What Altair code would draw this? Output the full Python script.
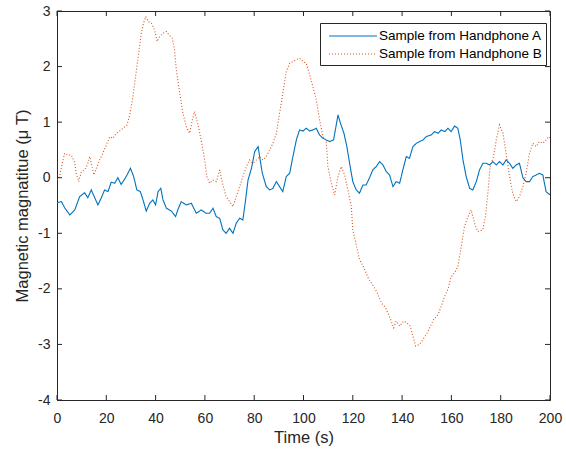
import altair as alt
import pandas as pd

# ---- data ----
t_a = [0, 1.8, 3.1, 5.2, 7.2, 9.2, 11.2, 12.5, 13.9, 15.3, 16.6, 18, 19.3, 20.7, 22, 23.4, 24.7, 26, 27.4, 28.4,
       29.8, 31.1, 32.4, 33.8, 34.9, 36.2, 37.6, 38.9, 40, 41, 42.1, 43, 44.4, 46.4, 48.1, 49, 50.4, 52.4, 54.5,
       56.5, 58.5, 60.5, 61.9, 63.3, 64.6, 66, 67.3, 68.6, 70, 71.4, 72.7, 74.1, 75.4, 76.5, 77.5, 78.9, 80.2,
       81.6, 82.2, 83.3, 84.9, 86.3, 87.6, 89, 90.3, 91.6, 93, 94.4, 95.7, 97.1, 98.4, 99.8, 101.1, 102.5, 103.8,
       105.2, 106.5, 107.9, 109.2, 110.6, 112.2, 114, 115, 116.4, 117.6, 118.7, 120, 121.4, 122.7, 124.1, 125.4,
       126.8, 128.1, 129.5, 130.9, 132.2, 133.6, 134.9, 136.3, 137.6, 139, 140.3, 141.7, 143, 144.4, 145.8,
       147.1, 148.5, 149.8, 151.8, 153.2, 154.6, 155.9, 157.3, 158.6, 159.9, 161.3, 162.6, 163.6, 164.7, 166,
       167.4, 168.7, 170.1, 171.4, 172.8, 174.1, 175.5, 176.8, 178.2, 179.5, 180.9, 182.2, 183.6, 184.9, 186.3,
       187.6, 189, 190.3, 191.7, 193, 194.4, 195.7, 197.1, 198.4, 200]
v_a = [-0.45, -0.43, -0.54, -0.67, -0.58, -0.34, -0.27, -0.36, -0.22, -0.36, -0.49, -0.36, -0.22, -0.25, -0.08,
       -0.1, 0.0, -0.12, -0.03, 0.05, 0.17, 0.02, -0.22, -0.25, -0.4, -0.6, -0.46, -0.4, -0.49, -0.25, -0.19,
       -0.4, -0.55, -0.6, -0.7, -0.58, -0.43, -0.49, -0.46, -0.64, -0.58, -0.64, -0.64, -0.55, -0.7, -0.73,
       -0.94, -1.0, -0.91, -1.0, -0.82, -0.73, -0.76, -0.4, -0.04, 0.17, 0.47, 0.56, 0.38, 0.08, -0.16, -0.22,
       -0.19, -0.07, -0.16, -0.25, 0.02, 0.08, 0.38, 0.68, 0.86, 0.84, 0.89, 0.84, 0.86, 0.89, 0.77, 0.71, 0.68,
       0.65, 0.68, 1.13, 0.98, 0.8, 0.56, 0.26, -0.07, -0.22, -0.28, -0.13, -0.13, 0.0, 0.14, 0.2, 0.29, 0.23,
       0.11, 0.05, -0.16, -0.07, -0.1, 0.14, 0.38, 0.35, 0.56, 0.62, 0.65, 0.68, 0.74, 0.77, 0.83, 0.8, 0.86,
       0.83, 0.89, 0.83, 0.93, 0.89, 0.68, 0.32, 0.02, -0.19, -0.22, -0.07, 0.14, 0.26, 0.26, 0.23, 0.29, 0.23,
       0.29, 0.23, 0.32, 0.26, 0.17, 0.23, 0.26, 0.0, -0.07, -0.07, 0.02, 0.05, 0.08, 0.05, -0.25, -0.31]

t_b = [0, 1, 2.2, 3.1, 4.4, 5.8, 7.2, 7.8, 8.8, 9.9, 11.2, 12.3, 13.3, 14.2, 15, 16, 17.3, 18.6, 20, 21.4, 22.7,
       24.1, 25.4, 26.8, 28.4, 29.5, 30.6, 31.5, 32.4, 33.3, 34.2, 35.1, 36, 37, 38.3, 39.6, 40.6, 41.6, 43, 44.4,
       45.4, 46.8, 47.7, 48.4, 49.8, 51.1, 52.4, 53.8, 54.9, 55.8, 57.1, 58.5, 59.9, 60.8, 61.9, 63.2, 64.6, 66,
       67.3, 68.6, 70, 71.4, 72.7, 74.1, 75.4, 76.8, 78.1, 79.5, 80.9, 82.2, 83.6, 84.9, 86.3, 87.6, 89, 90.3,
       91.6, 93, 94.4, 95.7, 97.3, 98.4, 99.8, 101.1, 102.5, 103.8, 105.2, 106.5, 107.9, 109.2, 109.9, 111.3,
       112.6, 114, 115.3, 116.7, 118, 119.4, 120, 121.2, 122.7, 124.8, 126.5, 128.4, 129.9, 131.6, 133.3, 134.2,
       135.6, 136.6, 137.6, 139, 140.6, 141.9, 143.3, 144.4, 145.5, 147.1, 148.5, 149.8, 151.2, 152.8, 154.6,
       155.9, 157.3, 158.6, 159.9, 161.3, 162.6, 164, 165.3, 166.7, 168, 169.4, 170.7, 172.7, 173.8, 174.8, 175.7,
       177.1, 178.2, 179.5, 180.9, 182.2, 183.6, 184.9, 186.3, 187.6, 189, 190.3, 191.7, 193, 194.4, 195.7, 197.1,
       198.4, 199.5, 200]
v_b = [-0.04, 0.02, 0.27, 0.44, 0.41, 0.41, 0.27, 0.08, -0.07, 0.11, 0.14, 0.23, 0.38, 0.2, 0.05, 0.17, 0.32,
       0.44, 0.59, 0.74, 0.71, 0.8, 0.84, 0.89, 0.95, 1.13, 1.4, 1.7, 2.0, 2.3, 2.6, 2.78, 2.9, 2.81, 2.78, 2.66,
       2.45, 2.54, 2.6, 2.63, 2.57, 2.51, 2.3, 1.94, 1.52, 1.16, 0.92, 0.8, 1.04, 1.19, 0.97, 0.68, 0.32, 0.02,
       -0.1, -0.04, -0.07, 0.14, -0.13, -0.34, -0.43, -0.52, -0.34, -0.16, 0.02, 0.2, 0.32, 0.26, 0.32, 0.38,
       0.32, 0.38, 0.5, 0.62, 0.8, 1.16, 1.52, 1.91, 2.06, 2.09, 2.13, 2.15, 2.09, 2.06, 1.85, 1.64, 1.4, 1.04,
       0.74, 0.68, 0.2, -0.1, -0.31, 0.02, 0.2, 0.05, -0.22, -0.52, -0.94, -1.17, -1.47, -1.65, -1.83, -1.95,
       -2.07, -2.25, -2.34, -2.43, -2.58, -2.7, -2.58, -2.67, -2.58, -2.61, -2.67, -2.85, -3.03, -3.0, -2.91,
       -2.82, -2.7, -2.55, -2.46, -2.31, -2.13, -2.01, -1.78, -1.71, -1.6, -1.24, -0.88, -0.7, -0.58, -0.82,
       -0.97, -0.94, -0.7, -0.28, 0.2, 0.38, 0.68, 0.95, 0.8, 0.44, 0.02, -0.28, -0.43, -0.34, -0.16, 0.08, 0.44,
       0.62, 0.56, 0.65, 0.62, 0.68, 0.74, 0.72]

series_names = ["Sample from Handphone A", "Sample from Handphone B"]
x_ticks = [0, 20, 40, 60, 80, 100, 120, 140, 160, 180, 200]
y_ticks = [-4, -3, -2, -1, 0, 1, 2, 3]

df = pd.concat([
    pd.DataFrame({"t": t_a, "v": v_a, "s": series_names[0], "o": range(len(t_a))}),
    pd.DataFrame({"t": t_b, "v": v_b, "s": series_names[1], "o": range(len(t_b))}),
])
xt = pd.DataFrame({"t": x_ticks})
yt = pd.DataFrame({"v": y_ticks})

W, H = 493, 389
FONT = "Liberation Sans"
AX = "#262626"

xscale = alt.Scale(domain=[0, 200], nice=False, zero=False)
yscale = alt.Scale(domain=[-4, 3], nice=False, zero=False)


def make_legend():
    return alt.Legend(title=None, orient="none", legendX=263, legendY=12,
                      symbolType="M-3,0H3", symbolSize=256, symbolStrokeWidth=1.1,
                      symbolOffset=20, labelOffset=17, labelLimit=400,
                      labelFontSize=13.5, labelFont=FONT, labelColor="#000000",
                      strokeColor=AX, fillColor="white", padding=4, rowPadding=2,
                      cornerRadius=0)


lines = alt.Chart(df).mark_line(clip=True, strokeWidth=1.1).encode(
    x=alt.X("t:Q", scale=xscale, axis=alt.Axis(values=x_ticks, labelExpr="'' + datum.value",
                                                labelFlush=False, labelOverlap=False,
                                                title="Time (s)", grid=False,
                                                tickSize=0, labelPadding=11, titlePadding=4, domainColor=AX,
                                                labelColor=AX, titleColor=AX, labelFontSize=14,
                                                titleFontSize=16.5, labelFont=FONT, titleFont=FONT,
                                                titleFontWeight="normal")),
    y=alt.Y("v:Q", scale=yscale, axis=alt.Axis(values=y_ticks, labelExpr="'' + datum.value",
                                                labelFlush=False, labelOverlap=False,
                                                title="Magnetic magnatitue (\u03bc T)",
                                                grid=False, tickSize=0, labelPadding=7,
                                                titleX=-35, titleY=H / 2, titleBaseline="middle",
                                                titleAlign="center", titleAngle=270,
                                                domainColor=AX, labelColor=AX, titleColor=AX,
                                                labelFontSize=14, titleFontSize=16.5, labelFont=FONT,
                                                titleFont=FONT, titleFontWeight="normal")),
    color=alt.Color("s:N", scale=alt.Scale(domain=series_names, range=["#0072BD", "#D95319"]),
                    legend=make_legend()),
    strokeDash=alt.StrokeDash("s:N", scale=alt.Scale(domain=series_names, range=[[1, 0], [1, 2]]),
                              legend=make_legend()),
    order="o:Q",
)

tick_len = 5
bx = alt.Chart(xt).mark_rule(color=AX, strokeWidth=1).encode(
    x=alt.X("t:Q", scale=xscale), y=alt.value(H), y2=alt.value(H - tick_len))
tx = alt.Chart(xt).mark_rule(color=AX, strokeWidth=1).encode(
    x=alt.X("t:Q", scale=xscale), y=alt.value(0), y2=alt.value(tick_len))
ly = alt.Chart(yt).mark_rule(color=AX, strokeWidth=1).encode(
    y=alt.Y("v:Q", scale=yscale), x=alt.value(0), x2=alt.value(tick_len))
ry = alt.Chart(yt).mark_rule(color=AX, strokeWidth=1).encode(
    y=alt.Y("v:Q", scale=yscale), x=alt.value(W), x2=alt.value(W - tick_len))

chart = alt.layer(lines, bx, tx, ly, ry).properties(
    width=W, height=H,
    autosize=alt.AutoSizeParams(type="none"),
    padding={"left": 57, "top": 11, "right": 16, "bottom": 52},
    background="white",
).configure_view(stroke=AX, strokeWidth=1).configure_axis(domainWidth=1)

chart.save("out.html", embed_options={"renderer": "svg", "actions": False})
